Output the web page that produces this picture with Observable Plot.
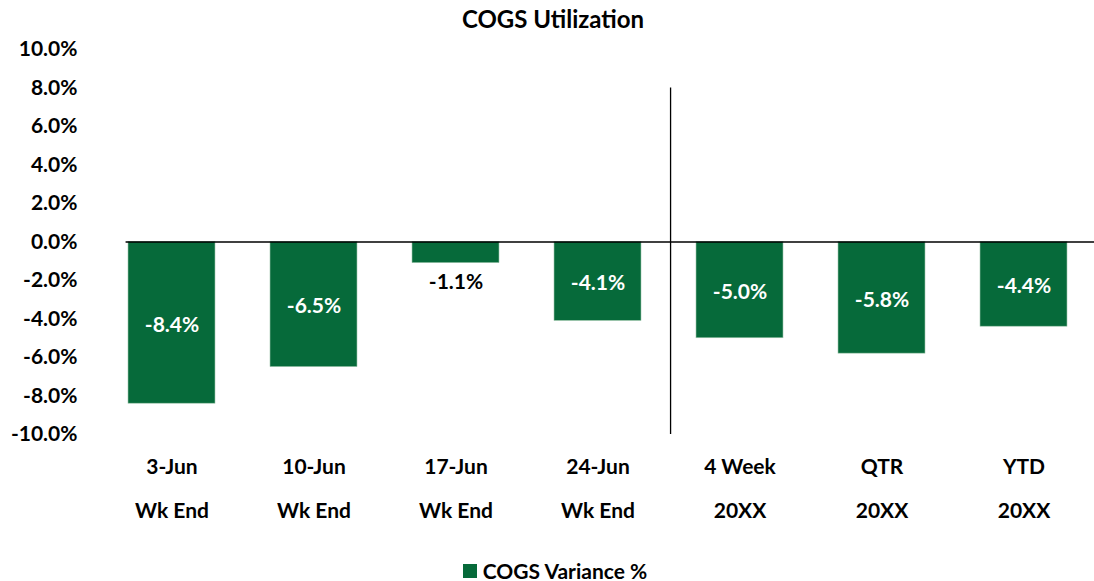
<!DOCTYPE html>
<html>
<head>
<meta charset="utf-8">
<script src="https://cdn.jsdelivr.net/npm/d3@7"></script>
<script src="https://cdn.jsdelivr.net/npm/@observablehq/plot@0.6"></script>
<style>
  html, body { margin: 0; padding: 0; background: #fff; }
  body { position: relative; width: 1094px; height: 581px; overflow: hidden; font-family: Lato, "Open Sans", sans-serif; color: #000; }
  #title { height: 36px; line-height: 38px; text-align: center; font-weight: 700; font-size: 24px; padding-left: 12px; box-sizing: border-box; }
  #chart svg { display: block; }
  #legend { position: absolute; left: 0; top: 560px; width: 1094px; height: 21px; display: flex; justify-content: center; align-items: center; padding-left: 16px; box-sizing: border-box; font-weight: 700; font-size: 21px; line-height: 21px; }
  #legend .sw { display: inline-block; width: 14px; height: 14px; margin-right: 6px; }
</style>
</head>
<body>
<div id="title">COGS Utilization</div>
<div id="chart"></div>
<div id="legend"></div>
<script>
const categories = ["3-Jun", "10-Jun", "17-Jun", "24-Jun", "4 Week", "QTR", "YTD"];
const subLabels  = ["Wk End", "Wk End", "Wk End", "Wk End", "20XX", "20XX", "20XX"];
const values     = [-0.084, -0.065, -0.011, -0.041, -0.050, -0.058, -0.044];
const yTicks     = [0.10, 0.08, 0.06, 0.04, 0.02, 0, -0.02, -0.04, -0.06, -0.08, -0.10];
const seriesName = "COGS Variance %";
const dividerBefore = "4 Week";
const barColor = "#066a3a";

const data = categories.map((c, i) => ({cat: c, sub: subLabels[i], v: values[i]}));
const pct = d => (d * 100).toFixed(1) + "%";

const W = 1094, H = 515, ML = 98, MR = -4, MT = 13, MB = 117;
const padInner = 0.386, padOuter = padInner / 2;
const step = (W - ML - MR) / (categories.length - padInner + 2 * padOuter);
const small = d => Math.abs(d.v) < 0.02;

const chart = Plot.plot({
  width: W,
  height: H,
  marginLeft: ML,
  marginRight: MR,
  marginTop: MT,
  marginBottom: MB,
  style: {fontFamily: "Lato, 'Open Sans', sans-serif", fontWeight: 700, color: "#000", background: "#fff", overflow: "visible"},
  x: {domain: categories, type: "band", paddingInner: padInner, paddingOuter: padOuter, label: null},
  y: {domain: [-0.10, 0.10], label: null},
  marks: [
    Plot.barY(data, {x: "cat", y: "v", fill: barColor, stroke: "#9fc7ad", strokeWidth: 0.6}),
    Plot.ruleY([0], {stroke: "#000", strokeWidth: 1.3, insetLeft: step * padOuter}),
    Plot.ruleX([dividerBefore], {y1: 0.08, y2: -0.10, stroke: "#000", strokeWidth: 1.3, dx: -step / 2 + 2}),
    Plot.text(data.filter(d => !small(d)), {
      x: "cat", y: d => d.v / 2, dy: 2,
      text: d => pct(d.v), fill: "#fff", fontSize: 21, fontWeight: 700
    }),
    Plot.text(data.filter(small), {
      x: "cat", y: "v", dy: 19,
      text: d => pct(d.v), fill: "#000", fontSize: 21, fontWeight: 700
    }),
    Plot.axisY({ticks: yTicks, tickFormat: pct, tickSize: 0, tickPadding: 21, fontSize: 21, fontWeight: 700}),
    Plot.axisX({
      tickFormat: (d) => d + "\n" + subLabels[categories.indexOf(d)],
      tickSize: 0, tickPadding: 8, fontSize: 21, fontWeight: 700, lineHeight: 2.1
    })
  ]
});
document.getElementById("chart").appendChild(chart);

const legend = document.getElementById("legend");
legend.innerHTML = `<span class="sw" style="background:${barColor}"></span><span>${seriesName}</span>`;
</script>
</body>
</html>
